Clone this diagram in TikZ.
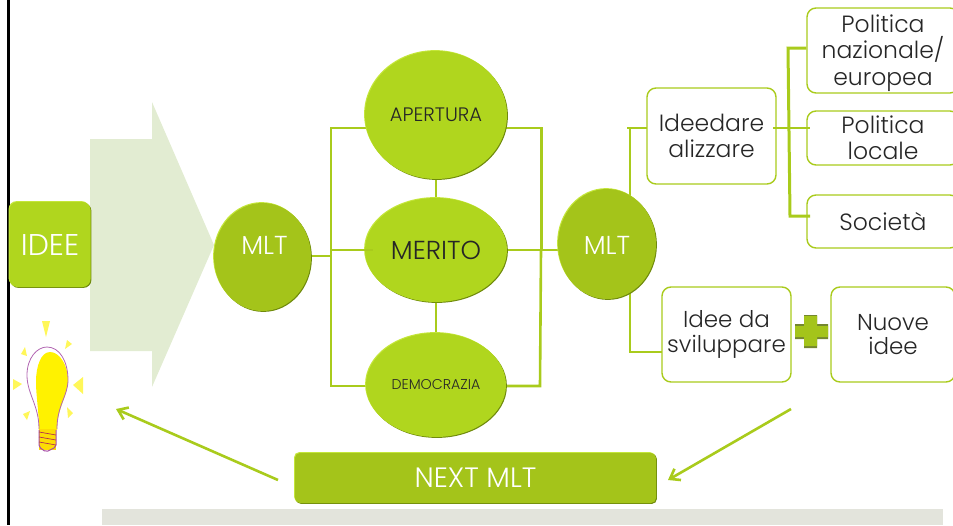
\documentclass[tikz,border=0pt]{standalone}
\usepackage{fontspec}
\setmainfont{Poppins Light}
\usetikzlibrary{shapes.geometric,backgrounds,arrows.meta}
\definecolor{lime}{HTML}{B0D61E}
\definecolor{olive}{HTML}{A4C41A}
\definecolor{edge}{HTML}{A9CB1C}
\definecolor{darkedge}{HTML}{6F8A0C}
\definecolor{hilite}{HTML}{C4E63A}
\definecolor{pale}{HTML}{E2ECD2}
\definecolor{band}{HTML}{E3E4DC}
\definecolor{ink}{HTML}{262626}
\tikzset{
  x=1pt,y=-1pt,
  bevel/.style={
    preaction={fill=darkedge,transform canvas={xshift=.9pt,yshift=-.9pt}},
    preaction={fill=hilite,transform canvas={xshift=-.9pt,yshift=.9pt}}},
  orb/.style={ellipse,inner sep=0pt,bevel,fill=lime,text=ink},
  mltorb/.style={ellipse,inner sep=0pt,bevel,fill=olive},
  mlttext/.style={text=white,font=\fontsize{26}{29}\selectfont},
  card/.style={rectangle,rounded corners=9pt,draw=edge,line width=1.4pt,fill=white,inner sep=0pt,align=center,text=ink,font=\fontsize{23.5}{26.5}\selectfont},
  tightcard/.style={card,font=\fontsize{23}{24.5}\selectfont},
  wire/.style={draw=edge,line width=2.6pt},
  feedback/.style={draw=edge,line width=2.6pt,-{Straight Barb[length=9pt,width=13pt]}},
  rays/.style={fill=yellow!65!white,draw=none},
}
\begin{document}
\begin{tikzpicture}
\useasboundingbox (0,0) rectangle (953,525);
% frame and band
\fill[black] (7,0) rectangle (9.5,525);
\fill[band] (102,509) rectangle (943,525);
% big arrow
\fill[pale] (90,139) -- (152,139) -- (152,102) -- (214,245) -- (152,387) -- (152,351) -- (90,351) -- cycle;
% nodes
\node[rectangle,rounded corners=8pt,bevel,fill=lime,text=white,inner sep=0pt,minimum width=81pt,minimum height=85pt,font=\fontsize{30}{33}\selectfont] (idee) at (50,244.5) {IDEE};
\node[mltorb,minimum width=97pt,minimum height=108pt] (mltl) at (262.5,257) {};
\node[mlttext] (mltlt) at (264.5,245) {MLT};
\node[orb,minimum width=142pt,minimum height=128pt,font=\fontsize{19.5}{22}\selectfont] (apertura) at (436,115) {APERTURA};
\node[orb,minimum width=142pt,minimum height=104pt,font=\fontsize{26}{29}\selectfont] (merito) at (436,250) {MERITO};
\node[orb,minimum width=140pt,minimum height=104pt,font=\fontsize{14.2}{17}\selectfont] (democrazia) at (436,385) {DEMOCRAZIA};
\node[mltorb,minimum width=98pt,minimum height=110pt] (mltr) at (607,244) {};
\node[mlttext] (mltrt) at (607,245) {MLT};
\node[card,minimum width=129pt,minimum height=96pt] (ideed) at (711.5,136) {Ideedare\\alizzare};
\node[card,minimum width=152pt,minimum height=85pt] (naz) at (883,50.5) {\rule{0pt}{23pt}Politica\\nazionale/\\europea};
\node[tightcard,font=\fontsize{23.5}{25.5}\selectfont,minimum width=152pt,minimum height=54pt] (loc) at (883,138) {Politica\\locale};
\node[card,minimum width=152pt,minimum height=53pt] (soc) at (883,221.5) {Società};
\node[tightcard,minimum width=129pt,minimum height=95pt] (svil) at (726.5,334.5) {Idee da\\sviluppare};
\node[tightcard,minimum width=124pt,minimum height=95pt] (nuove) at (893,334.5) {Nuove\\idee};
\node[rectangle,rounded corners=5pt,bevel,fill=olive,text=white,inner sep=0pt,minimum width=361pt,minimum height=50pt,font=\fontsize{28}{31}\selectfont] (next) at (475.5,478) {NEXT MLT};
% plus
\fill[darkedge!70!gray] (795,324) -- (804,324) -- (804,315) -- (817,315) -- (817,324) -- (828,324) -- (828,339) -- (817,339) -- (817,348) -- (804,348) -- (804,339) -- (795,339) -- cycle;
\fill[olive] (795,326) -- (804,326) -- (804,316) -- (817,316) -- (817,326) -- (828,326) -- (828,337) -- (817,337) -- (817,346) -- (804,346) -- (804,337) -- (795,337) -- cycle;
% bulb
\fill[rays] (42,321) -- (50,321) -- (46,337) -- cycle;
\fill[rays] (67,340) -- (72,344) -- (65,349) -- cycle;
\fill[rays] (25,347) -- (27,356) -- (21,354) -- cycle;
\fill[rays] (13,379) -- (22,384) -- (13,390) -- cycle;
\fill[rays] (83,377) -- (83,394) -- (73,385) -- cycle;
\fill[rays] (30,411) -- (27,420) -- (23,414) -- cycle;
\fill[rays] (67,407) -- (73,413) -- (68,418) -- cycle;
\fill[yellow] (50,352) .. controls (60,352) and (68,366) .. (68,380)
  .. controls (68,396) and (57,408) .. (57,430) -- (39,430)
  .. controls (39,412) and (36,396) .. (36,382) .. controls (36,366) and (41,352) .. (50,352) -- cycle;
\draw[violet!60!white,line width=.8pt] (39,429) .. controls (39,405) and (27,394) .. (27,375)
  .. controls (27,358) and (37,347) .. (47,347) .. controls (60,347) and (68,362) .. (68,380)
  .. controls (68,396) and (57,405) .. (57,429);
\fill[yellow!80!orange] (39,429) rectangle (56,450);
\draw[violet!70!white,line width=1pt,rounded corners=2pt] (39,430) -- (39,447) -- (46,452) -- (56,447) -- (56,430);
\draw[violet!60!orange,line width=.7pt] (39,432) -- (56,435) (39,437) -- (56,440) (39,442) -- (56,445);
% connectors behind the nodes
\begin{scope}[on background layer]
\coordinate (lt) at (331,128);
\coordinate (lb) at (331,386);
\coordinate (lm) at (331,250);
\coordinate (lf) at (331,256);
\coordinate (rt) at (541.5,128);
\coordinate (rb) at (540,386);
\draw[wire,line cap=rect] (apertura.center |- lt) -- (lt) -- (lb) -- (democrazia.center |- lb);
\draw[wire] (mltl.center |- lf) -- (lf);
\draw[wire] (apertura.center |- rt) -- (rt) -- (541.5,250);
\draw[wire] (541,250) -- (rb) -- (democrazia.center |- rb);
\draw[wire] (merito.center) -- (mltr.center |- merito.center);
\draw[wire] (apertura) -- (merito);
\draw[wire] (merito) -- (democrazia);
\coordinate (mt) at (630,128);
\coordinate (mb) at (630,352);
\draw[wire] (mt) -- (mb) -- (svil.center |- mb);
\draw[wire] (627,128) -- (ideed.center |- mt);
\end{scope}
% connectors in front of the nodes
\draw[wire,line width=2pt] (lm) -- (373,250);
\coordinate (bt) at (788,48);
\coordinate (bb) at (790,216);
\draw[wire,line width=3pt] (naz.west |- bt) -- (bt) -- (bb) -- (810,216);
\draw[wire] (773,128) -- (810,128);
\coordinate (af) at (791,409);
\coordinate (at2) at (668,480);
\coordinate (bf) at (278,480);
\coordinate (bt2) at (116,409);
\draw[feedback] (af) -- (at2);
\draw[feedback] (bf) -- (bt2);
\end{tikzpicture}
\end{document}
